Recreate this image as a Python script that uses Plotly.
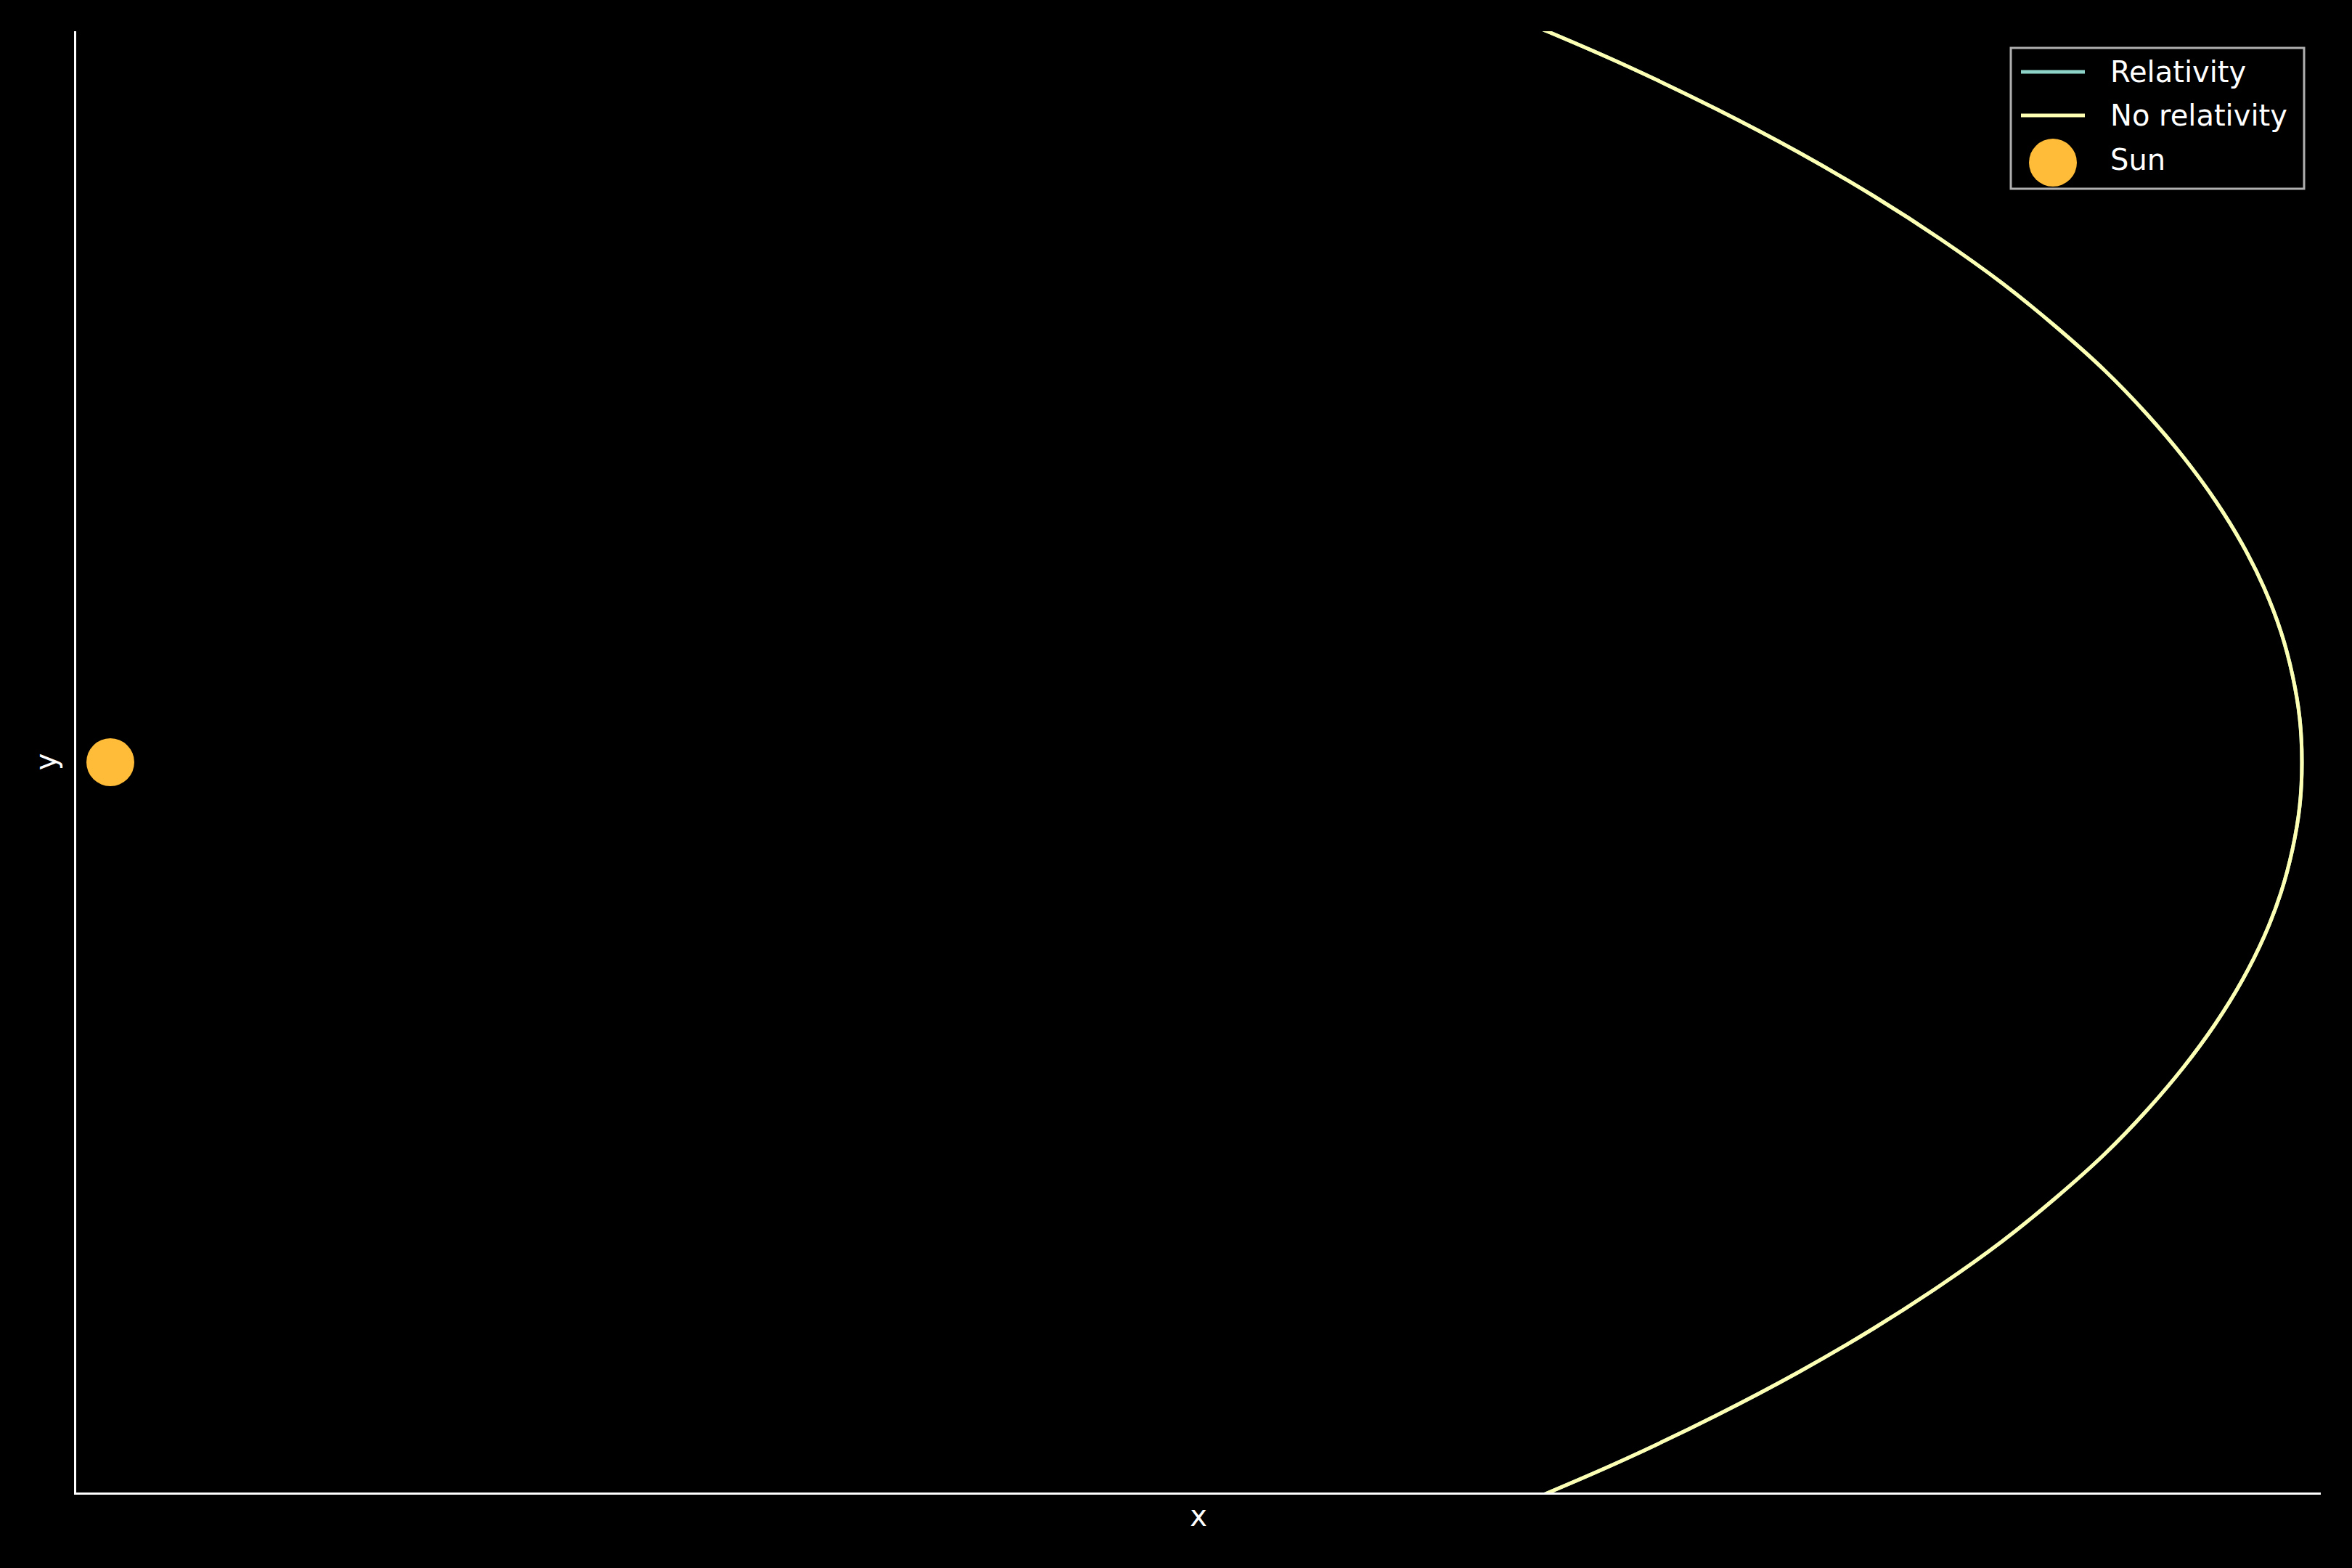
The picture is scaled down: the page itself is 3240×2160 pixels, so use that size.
import plotly.graph_objects as go

# Orbit points (Sun at origin, arbitrary units)
rel_x = [1.898, 1.979, 2.087, 2.212, 2.326, 2.429, 2.522, 2.606, 2.680, 2.747, 2.805, 2.856,
         2.900, 2.937, 2.967, 2.990, 3.006, 3.016, 3.019, 3.016, 3.006, 2.990, 2.967, 2.937,
         2.900, 2.856, 2.805, 2.747, 2.680, 2.606, 2.522, 2.429, 2.326, 2.212, 2.087, 1.979, 1.898]
rel_y = [1.040, 1.007, 0.960, 0.900, 0.840, 0.780, 0.720, 0.660, 0.600, 0.540, 0.480, 0.420,
         0.360, 0.300, 0.240, 0.180, 0.120, 0.060, 0.000, -0.060, -0.120, -0.180, -0.240, -0.300,
         -0.360, -0.420, -0.480, -0.540, -0.600, -0.660, -0.720, -0.780, -0.840, -0.900, -0.960, -1.007, -1.040]

norel_x = [1.898, 1.979, 2.087, 2.212, 2.326, 2.429, 2.522, 2.606, 2.680, 2.747, 2.805, 2.856,
           2.900, 2.937, 2.967, 2.990, 3.006, 3.016, 3.019, 3.016, 3.006, 2.990, 2.967, 2.937,
           2.900, 2.856, 2.805, 2.747, 2.680, 2.606, 2.522, 2.429, 2.326, 2.212, 2.087, 1.979, 1.898]
norel_y = [1.040, 1.007, 0.960, 0.900, 0.840, 0.780, 0.720, 0.660, 0.600, 0.540, 0.480, 0.420,
           0.360, 0.300, 0.240, 0.180, 0.120, 0.060, 0.000, -0.060, -0.120, -0.180, -0.240, -0.300,
           -0.360, -0.420, -0.480, -0.540, -0.600, -0.660, -0.720, -0.780, -0.840, -0.900, -0.960, -1.007, -1.040]

sun_x = [0.0]
sun_y = [0.0]

series_names = ["Relativity", "No relativity", "Sun"]
REL_COLOR = "#8dd3c7"
NOREL_COLOR = "#feffb3"
SUN_COLOR = "#ffbc38"
FONT = "DejaVu Sans"

W, H = 3240, 2160
ML, MR, MT, MB = 105, 43, 43, 104
PW, PH = W - ML - MR, H - MT - MB

fig = go.Figure()
fig.add_trace(go.Scatter(x=rel_x, y=rel_y, mode="lines", name=series_names[0],
                         line=dict(color=REL_COLOR, width=5, shape="spline", smoothing=1.0),
                         showlegend=False))
fig.add_trace(go.Scatter(x=norel_x, y=norel_y, mode="lines", name=series_names[1],
                         line=dict(color=NOREL_COLOR, width=5, shape="spline", smoothing=1.0),
                         showlegend=False))
fig.add_trace(go.Scatter(x=sun_x, y=sun_y, mode="markers", name=series_names[2],
                         marker=dict(color=SUN_COLOR, size=66, line=dict(width=0)), showlegend=False))


def px2p(px, py):
    return (px - ML) / PW, (H - MB - py) / PH


shapes = []
annotations = []
# legend frame
x0, y1 = px2p(2770, 66)
x1, y0 = px2p(3174, 260)
shapes.append(dict(type="rect", xref="paper", yref="paper", x0=x0, x1=x1, y0=y0, y1=y1,
                   line=dict(color="#b0b0b0", width=3), fillcolor="black", layer="above"))
rows = [99, 159, 224]
text_rows = [99, 159, 220]
colors = [REL_COLOR, NOREL_COLOR]
for i in range(2):
    lx0, ly = px2p(2784, rows[i])
    lx1, _ = px2p(2872, rows[i])
    shapes.append(dict(type="line", xref="paper", yref="paper", x0=lx0, x1=lx1, y0=ly, y1=ly,
                       line=dict(color=colors[i], width=5), layer="above"))
cx0, cy1 = px2p(2828 - 33, rows[2] - 33)
cx1, cy0 = px2p(2828 + 33, rows[2] + 33)
shapes.append(dict(type="circle", xref="paper", yref="paper", x0=cx0, x1=cx1, y0=cy0, y1=cy1,
                   line=dict(width=0), fillcolor=SUN_COLOR, layer="above"))
for i, name in enumerate(series_names):
    tx, ty = px2p(2905, text_rows[i])
    annotations.append(dict(text=name, xref="paper", yref="paper", x=tx, y=ty, xanchor="left",
                            yanchor="middle", showarrow=False,
                            font=dict(family=FONT, size=40, color="white")))

fig.update_layout(
    width=W, height=H,
    paper_bgcolor="black", plot_bgcolor="black",
    margin=dict(l=ML, r=MR, t=MT, b=MB, autoexpand=False),
    font=dict(family=FONT, size=40, color="white"),
    shapes=shapes, annotations=annotations,
    showlegend=False,
    xaxis=dict(range=[-0.047, 3.045], showgrid=False, zeroline=False, showline=True,
               linecolor="white", linewidth=3.2, ticks="", showticklabels=False,
               title=dict(text="x", font=dict(family=FONT, size=40, color="white"), standoff=16)),
    yaxis=dict(range=[-1.006, 1.007], showgrid=False, zeroline=False, showline=True,
               linecolor="white", linewidth=3.2, ticks="", showticklabels=False,
               title=dict(text="y", font=dict(family=FONT, size=40, color="white"), standoff=12)),
)

fig.write_html(
    "out.html",
    config={"displayModeBar": False},
    post_script="document.body.style.margin='0';document.body.style.padding='0';"
                "document.body.style.background='black';"
                "document.documentElement.style.background='black';"
                "document.body.style.overflow='hidden';",
)
